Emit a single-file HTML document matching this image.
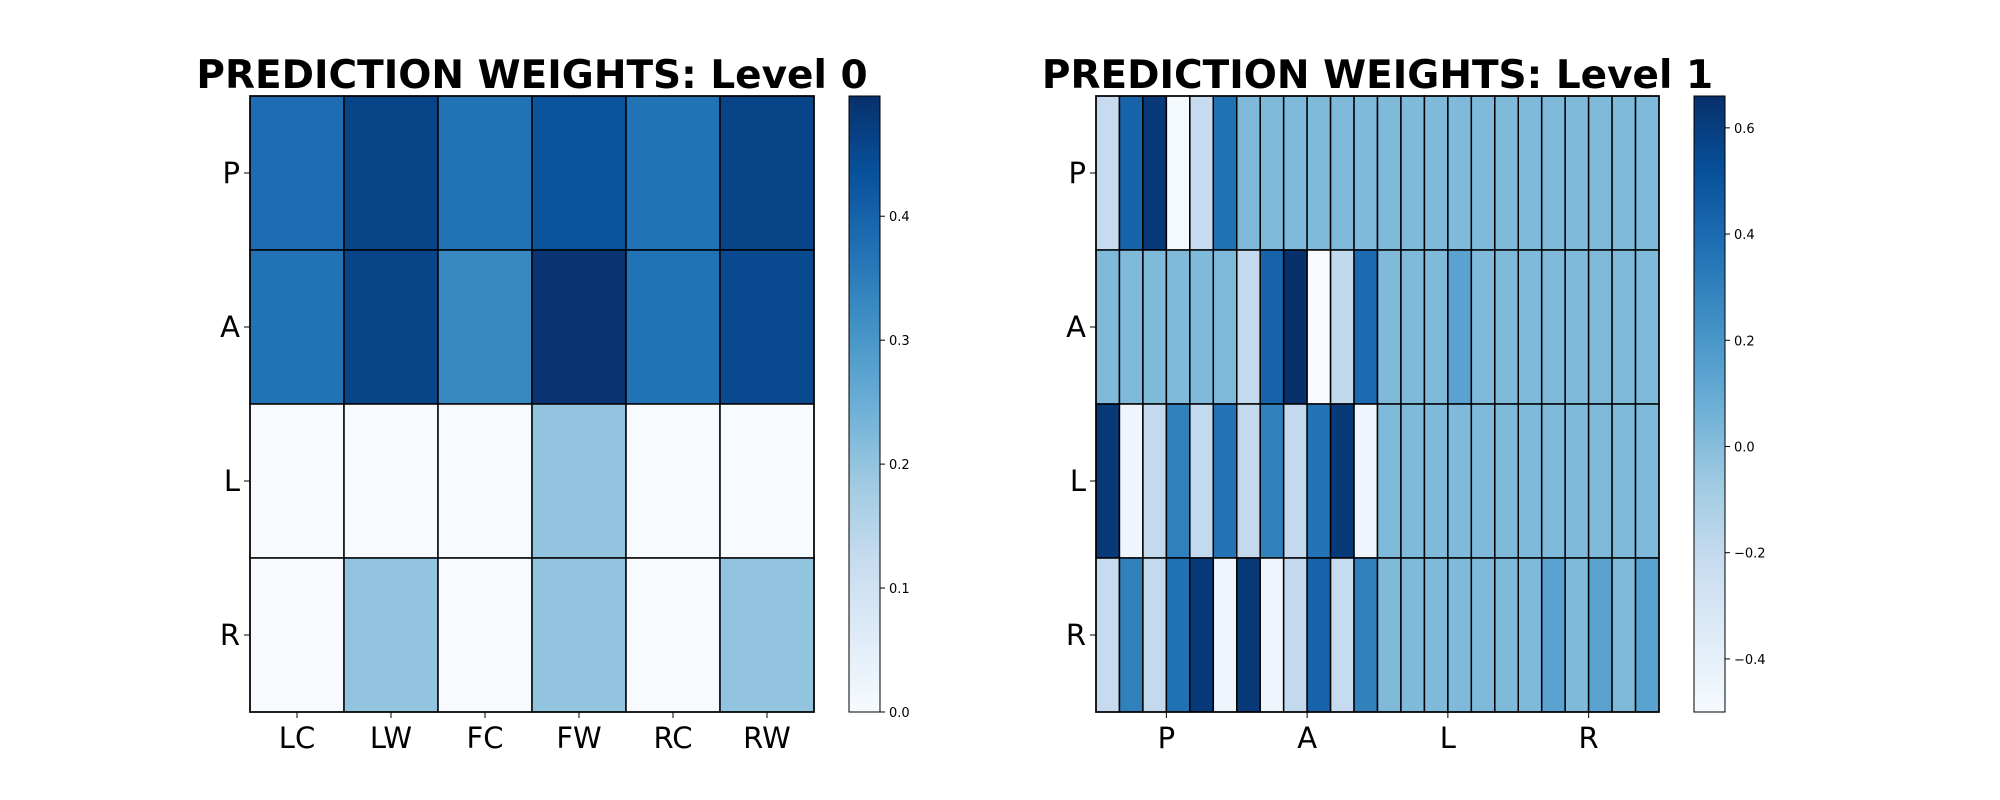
<!DOCTYPE html>
<html><head><meta charset="utf-8">
<style>
html,body{margin:0;padding:0;background:#fff;}
svg{display:block;font-family:"DejaVu Sans","Liberation Sans",sans-serif;}
</style></head>
<body>
<svg id="chart" width="2000" height="800" viewBox="0 0 2000 800" xmlns="http://www.w3.org/2000/svg">
<defs>
<linearGradient id="blues" x1="0" y1="1" x2="0" y2="0">
<stop offset="0" stop-color="#f7fbff"/><stop offset="0.125" stop-color="#deebf7"/><stop offset="0.25" stop-color="#c6dbef"/><stop offset="0.375" stop-color="#9ecae1"/><stop offset="0.5" stop-color="#6baed6"/><stop offset="0.625" stop-color="#4292c6"/><stop offset="0.75" stop-color="#2171b5"/><stop offset="0.875" stop-color="#08519c"/><stop offset="1" stop-color="#08306b"/>
</linearGradient>
</defs>
</svg>
<script>
// Level 0 data
const rows0 = ["P","A","L","R"];
const cols0 = ["LC","LW","FC","FW","RC","RW"];
const valsP0 = [0.38,0.46,0.37,0.43,0.37,0.46];
const valsA0 = [0.37,0.46,0.33,0.49,0.37,0.45];
const valsL0 = [0,0,0,0.2,0,0];
const valsR0 = [0,0.2,0,0.2,0,0.2];
const cbTicks0 = [0.0,0.1,0.2,0.3,0.4];
// Level 1 data
const rows1 = ["P","A","L","R"];
const xTickLabels1 = ["P","A","L","R"];
const xTickPos1 = [3,9,15,21];
const valsP1 = [-0.21,0.43,0.62,-0.48,-0.21,0.37,0.02,0.02,0.02,0.02,0.02,0.02,0.02,0.02,0.02,0.02,0.02,0.02,0.02,0.02,0.02,0.02,0.02,0.02];
const valsA1 = [0.02,0.02,0.02,0.02,0.02,0.02,-0.2,0.43,0.66,-0.5,-0.19,0.4,0.02,0.02,0.02,0.14,0.02,0.02,0.02,0.02,0.02,0.02,0.02,0.02];
const valsL1 = [0.62,-0.45,-0.2,0.3,-0.2,0.36,-0.2,0.3,-0.2,0.36,0.62,-0.45,0.02,0.02,0.02,0.02,0.02,0.02,0.02,0.02,0.02,0.02,0.02,0.02];
const valsR1 = [-0.21,0.3,-0.2,0.37,0.62,-0.45,0.62,-0.45,-0.2,0.43,-0.21,0.3,0.02,0.02,0.02,0.02,0.02,0.02,0.02,0.14,0.02,0.14,0.02,0.14];
const cbTicks1 = [-0.4,-0.2,0.0,0.2,0.4,0.6];

const NS="http://www.w3.org/2000/svg";
const svg=document.getElementById('chart');
const anchors=["#f7fbff","#deebf7","#c6dbef","#9ecae1","#6baed6","#4292c6","#2171b5","#08519c","#08306b"].map(h=>[parseInt(h.substr(1,2),16),parseInt(h.substr(3,2),16),parseInt(h.substr(5,2),16)]);
function blues(t){t=Math.max(0,Math.min(1,t));const p=t*8;const i=Math.min(7,Math.floor(p));const f=p-i;const a=anchors[i],b=anchors[i+1];return `rgb(${a.map((v,k)=>Math.round(v+(b[k]-v)*f)).join(',')})`;}
function el(tag,attrs,parent){const e=document.createElementNS(NS,tag);for(const k in attrs)e.setAttribute(k,attrs[k]);(parent||svg).appendChild(e);return e;}
function txt(s,attrs){const e=el('text',attrs);e.textContent=s;return e;}

function heatmap(o){
  const nR=o.data.length,nC=o.data[0].length;
  const cw=(o.x1-o.x0)/nC,rh=(o.y1-o.y0)/nR;
  const xScale=c=>o.x0+c*cw, yScale=r=>o.y0+r*rh;
  const cScale=v=>(v-o.vmin)/(o.vmax-o.vmin);
  const g=el('g',{});
  
  
  o.data.forEach((row,r)=>row.forEach((v,c)=>{
    const rc=el('rect',{x:xScale(c),y:yScale(r),width:cw,height:rh,fill:blues(cScale(v)),stroke:'#000','stroke-width':1.5},g);
    
    
  }));
  el('rect',{x:o.x0,y:o.y0,width:o.x1-o.x0,height:o.y1-o.y0,fill:'none',stroke:'#000','stroke-width':1.5});
  o.rowLabels.forEach((l,r)=>{
    const y=yScale(r+0.5);
    el('line',{x1:o.x0-6,x2:o.x0,y1:y,y2:y,stroke:'#000','stroke-width':1});
    const t=txt(l,{x:o.x0-10,y:y+10,'text-anchor':'end','font-size':29});
    
    
  });
  o.xLabels.forEach((l,i)=>{
    const x=xScale(o.xPos[i]);
    el('line',{x1:x,x2:x,y1:o.y1,y2:o.y1+6,stroke:'#000','stroke-width':1});
    const t=txt(l,{x:x,y:o.y1+36,'text-anchor':'middle','font-size':29});
    
    
  });
  const tt=txt(o.title,{x:(o.x0+o.x1)/2,y:o.y0-8,'text-anchor':'middle','font-size':39,'font-weight':'bold'});
  
  
  const cb=el('rect',{x:o.cbx,y:o.y0,width:31,height:o.y1-o.y0,fill:'url(#blues)',stroke:'#000','stroke-width':1});
  
  
  o.cbTicks.forEach(v=>{
    const y=o.y1-cScale(v)*(o.y1-o.y0);
    el('line',{x1:o.cbx+31,x2:o.cbx+36,y1:y,y2:y,stroke:'#000','stroke-width':1});
    const t=txt((v<0?'\u2212':'')+Math.abs(v).toFixed(1),{x:o.cbx+40,y:y+5,'font-size':13});
    
    
  });
}
heatmap({name:'level-0-heatmap',title:'PREDICTION WEIGHTS: Level 0',data:[valsP0,valsA0,valsL0,valsR0],rowLabels:rows0,xLabels:cols0,xPos:cols0.map((_,i)=>i+0.5),x0:250,x1:814,y0:96,y1:712,vmin:0,vmax:0.497,cbx:849,cbTicks:cbTicks0});
heatmap({name:'level-1-heatmap',title:'PREDICTION WEIGHTS: Level 1',data:[valsP1,valsA1,valsL1,valsR1],rowLabels:rows1,xLabels:xTickLabels1,xPos:xTickPos1,x0:1096,x1:1659,y0:96,y1:712,vmin:-0.5,vmax:0.66,cbx:1694,cbTicks:cbTicks1});
</script>
</body></html>
